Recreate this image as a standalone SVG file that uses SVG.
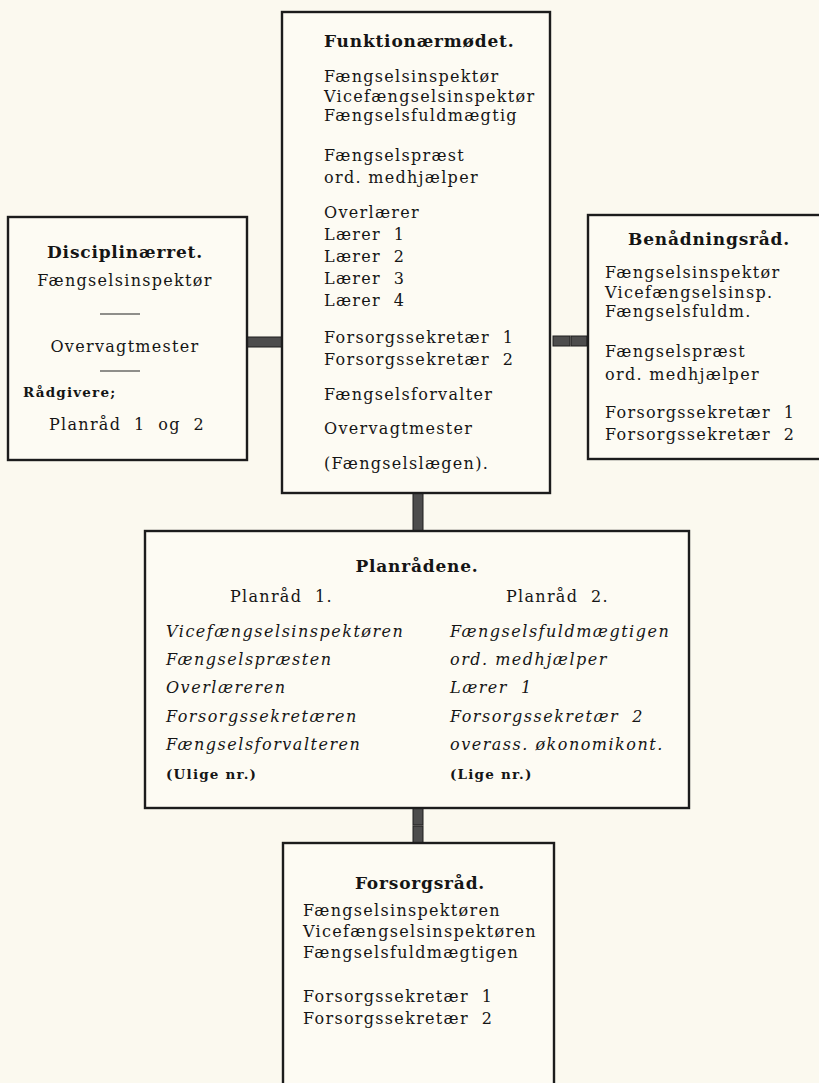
<svg xmlns="http://www.w3.org/2000/svg" width="819" height="1083" viewBox="0 0 819 1083">
<defs>
<style>
.bg{fill:#fbf9ef}
.box{fill:#fdfbf3;stroke:#1c1c1c;stroke-width:2.4}
.t{font-family:"DejaVu Serif","Liberation Serif",serif;font-size:16px;letter-spacing:1.3px;fill:#151515;white-space:pre}
.h{font-family:"DejaVu Serif","Liberation Serif",serif;font-size:17px;font-weight:bold;letter-spacing:0.8px;fill:#151515}
.i{font-family:"DejaVu Serif","Liberation Serif",serif;font-size:16px;font-style:italic;letter-spacing:1.5px;fill:#151515;white-space:pre}
.s{font-family:"DejaVu Serif","Liberation Serif",serif;font-size:13.5px;font-weight:bold;letter-spacing:1.2px;fill:#151515}
.c{text-anchor:middle}
.bar{fill:#4d4d4d;stroke:#1e1e1e;stroke-width:1}
.dash{stroke:#222;stroke-width:1.2}
</style>
</defs>
<rect class="bg" x="0" y="0" width="819" height="1083"/>

<g id="connectors">
<rect class="bar" x="247" y="337" width="35" height="10"/>
<rect class="bar" x="553" y="336" width="17" height="10"/>
<rect class="bar" x="571" y="336" width="16" height="10"/>
<rect class="bar" x="413" y="493" width="10" height="38"/>
<rect class="bar" x="413" y="808" width="10" height="17"/>
<rect class="bar" x="413" y="826" width="10" height="17"/>
</g>

<g id="funktionaermoedet">
<rect class="box" x="282" y="12" width="268" height="481"/>
<text class="h" x="324" y="47">Funktionærmødet.</text>
<text class="t" x="324" y="82">Fængselsinspektør</text>
<text class="t" x="324" y="102">Vicefængselsinspektør</text>
<text class="t" x="324" y="121">Fængselsfuldmægtig</text>
<text class="t" x="324" y="161">Fængselspræst</text>
<text class="t" x="324" y="183">ord. medhjælper</text>
<text class="t" x="324" y="218">Overlærer</text>
<text class="t" x="324" y="240" xml:space="preserve">Lærer  1</text>
<text class="t" x="324" y="262" xml:space="preserve">Lærer  2</text>
<text class="t" x="324" y="284" xml:space="preserve">Lærer  3</text>
<text class="t" x="324" y="306" xml:space="preserve">Lærer  4</text>
<text class="t" x="324" y="343" xml:space="preserve">Forsorgssekretær  1</text>
<text class="t" x="324" y="365" xml:space="preserve">Forsorgssekretær  2</text>
<text class="t" x="324" y="400">Fængselsforvalter</text>
<text class="t" x="324" y="434">Overvagtmester</text>
<text class="t" x="324" y="469">(Fængselslægen).</text>
</g>

<g id="disciplinaerret">
<rect class="box" x="8" y="217" width="239" height="243"/>
<text class="h c" x="125" y="258">Disciplinærret.</text>
<text class="t c" x="125" y="286">Fængselsinspektør</text>
<line class="dash" x1="100" y1="314" x2="140" y2="314"/>
<text class="t c" x="125" y="352">Overvagtmester</text>
<line class="dash" x1="100" y1="371" x2="140" y2="371"/>
<text class="s" x="23" y="397">Rådgivere;</text>
<text class="t" x="49" y="430" xml:space="preserve">Planråd  1  og  2</text>
</g>

<g id="benaadningsraad">
<rect class="box" x="588" y="215" width="240" height="244"/>
<text class="h c" x="709" y="245">Benådningsråd.</text>
<text class="t" x="605" y="278">Fængselsinspektør</text>
<text class="t" x="605" y="298">Vicefængselsinsp.</text>
<text class="t" x="605" y="317">Fængselsfuldm.</text>
<text class="t" x="605" y="357">Fængselspræst</text>
<text class="t" x="605" y="380">ord. medhjælper</text>
<text class="t" x="605" y="418" xml:space="preserve">Forsorgssekretær  1</text>
<text class="t" x="605" y="440" xml:space="preserve">Forsorgssekretær  2</text>
</g>

<g id="planraadene">
<rect class="box" x="145" y="531" width="544" height="277"/>
<text class="h c" x="417" y="572">Planrådene.</text>
<text class="t" x="230" y="602" xml:space="preserve">Planråd  1.</text>
<text class="t" x="506" y="602" xml:space="preserve">Planråd  2.</text>
<text class="i" x="166" y="637">Vicefængselsinspektøren</text>
<text class="i" x="166" y="665">Fængselspræsten</text>
<text class="i" x="166" y="693">Overlæreren</text>
<text class="i" x="166" y="722">Forsorgssekretæren</text>
<text class="i" x="166" y="750">Fængselsforvalteren</text>
<text class="s" x="166" y="779">(Ulige nr.)</text>
<text class="i" x="450" y="637">Fængselsfuldmægtigen</text>
<text class="i" x="450" y="665">ord. medhjælper</text>
<text class="i" x="450" y="693" xml:space="preserve">Lærer  1</text>
<text class="i" x="450" y="722" xml:space="preserve">Forsorgssekretær  2</text>
<text class="i" x="450" y="750">overass. økonomikont.</text>
<text class="s" x="450" y="779">(Lige nr.)</text>
</g>

<g id="forsorgsraad">
<rect class="box" x="283" y="843" width="271" height="260"/>
<text class="h c" x="420" y="889">Forsorgsråd.</text>
<text class="t" x="303" y="916">Fængselsinspektøren</text>
<text class="t" x="303" y="937">Vicefængselsinspektøren</text>
<text class="t" x="303" y="958">Fængselsfuldmægtigen</text>
<text class="t" x="303" y="1002" xml:space="preserve">Forsorgssekretær  1</text>
<text class="t" x="303" y="1024" xml:space="preserve">Forsorgssekretær  2</text>
</g>
</svg>
